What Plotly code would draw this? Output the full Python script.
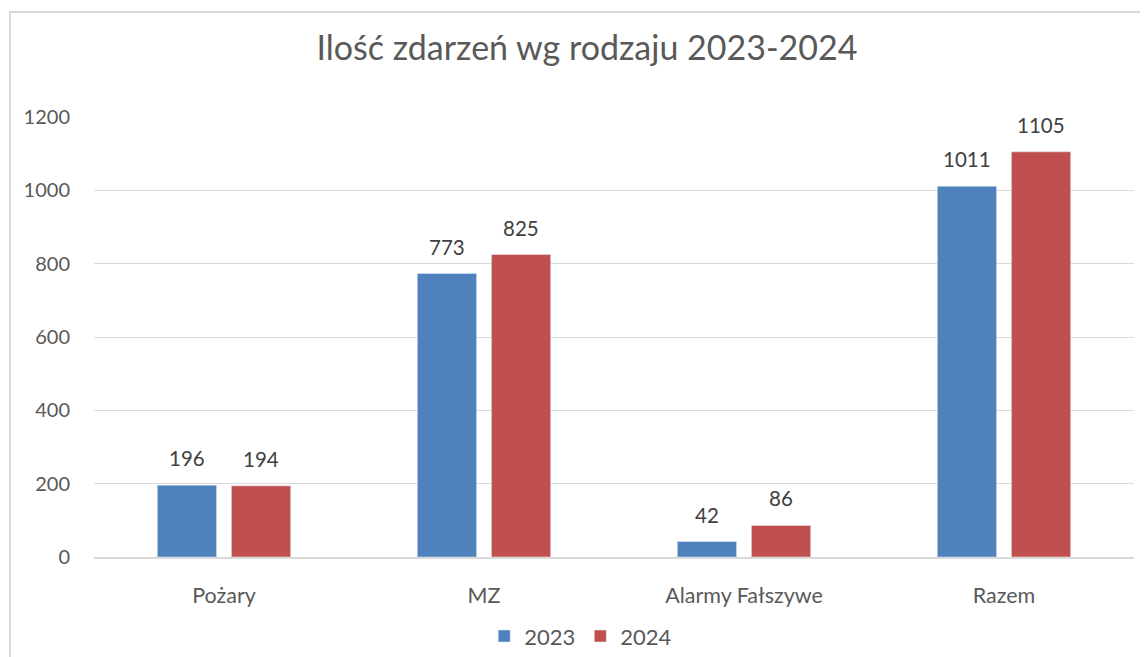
import plotly.graph_objects as go

categories = ["Pożary", "MZ", "Alarmy Fałszywe", "Razem"]
values_2023 = [196, 773, 42, 1011]
values_2024 = [194, 825, 86, 1105]
series = [("2023", values_2023, "#4F81BD"), ("2024", values_2024, "#C0504D")]

FONT = "Lato, 'Open Sans', sans-serif"

fig = go.Figure()
for name, vals, color in series:
    fig.add_trace(go.Bar(x=categories, y=vals, name=name, marker_color=color))

# value labels above the bars
for i, (name, vals, color) in enumerate(series):
    shift = -37 if i == 0 else 37
    for cat, v in zip(categories, vals):
        fig.add_annotation(x=cat, y=v, text=str(v), showarrow=False,
                           xshift=shift, yshift=13, yanchor="bottom",
                           font=dict(size=20.5, color="#404040", family=FONT))

# outer chart frame (runs off the right and bottom edges, as in the source)
fig.add_shape(type="rect", xref="paper", yref="paper",
              x0=-0.0808, x1=1.06, y0=-0.3, y1=1.2386,
              line=dict(color="#d9d9d9", width=2), layer="below")

# the page body adds an 8px offset; figure is shrunk so nothing overflows
fig.update_layout(
    width=1140, height=649,
    margin=dict(l=86, r=14, t=109, b=100, autoexpand=False),
    paper_bgcolor="white", plot_bgcolor="white",
    barmode="group", bargap=0.43, bargroupgap=0.2,
    font=dict(family=FONT, color="#595959", size=20),
    title=dict(text="Ilość zdarzeń wg rodzaju 2023-2024", x=0.474, xref="paper",
               y=1 - 40 / 649, yanchor="middle", xanchor="center",
               font=dict(size=34, color="#595959", family=FONT)),
    legend=dict(orientation="h", x=0.468, xanchor="center", y=-0.18,
                yanchor="middle", itemwidth=30, font=dict(size=22, color="#595959")),
)
fig.update_yaxes(range=[0, 1200], dtick=200, showgrid=True, gridcolor="#d9d9d9",
                 gridwidth=1, zeroline=False, showline=False, automargin=False,
                 ticklabelstandoff=23, tickfont=dict(size=20))
fig.update_xaxes(showline=True, linecolor="#d9d9d9", linewidth=1.5, automargin=False,
                 ticklabelstandoff=18, tickfont=dict(size=21.5))

fig.write_html("out.html")
